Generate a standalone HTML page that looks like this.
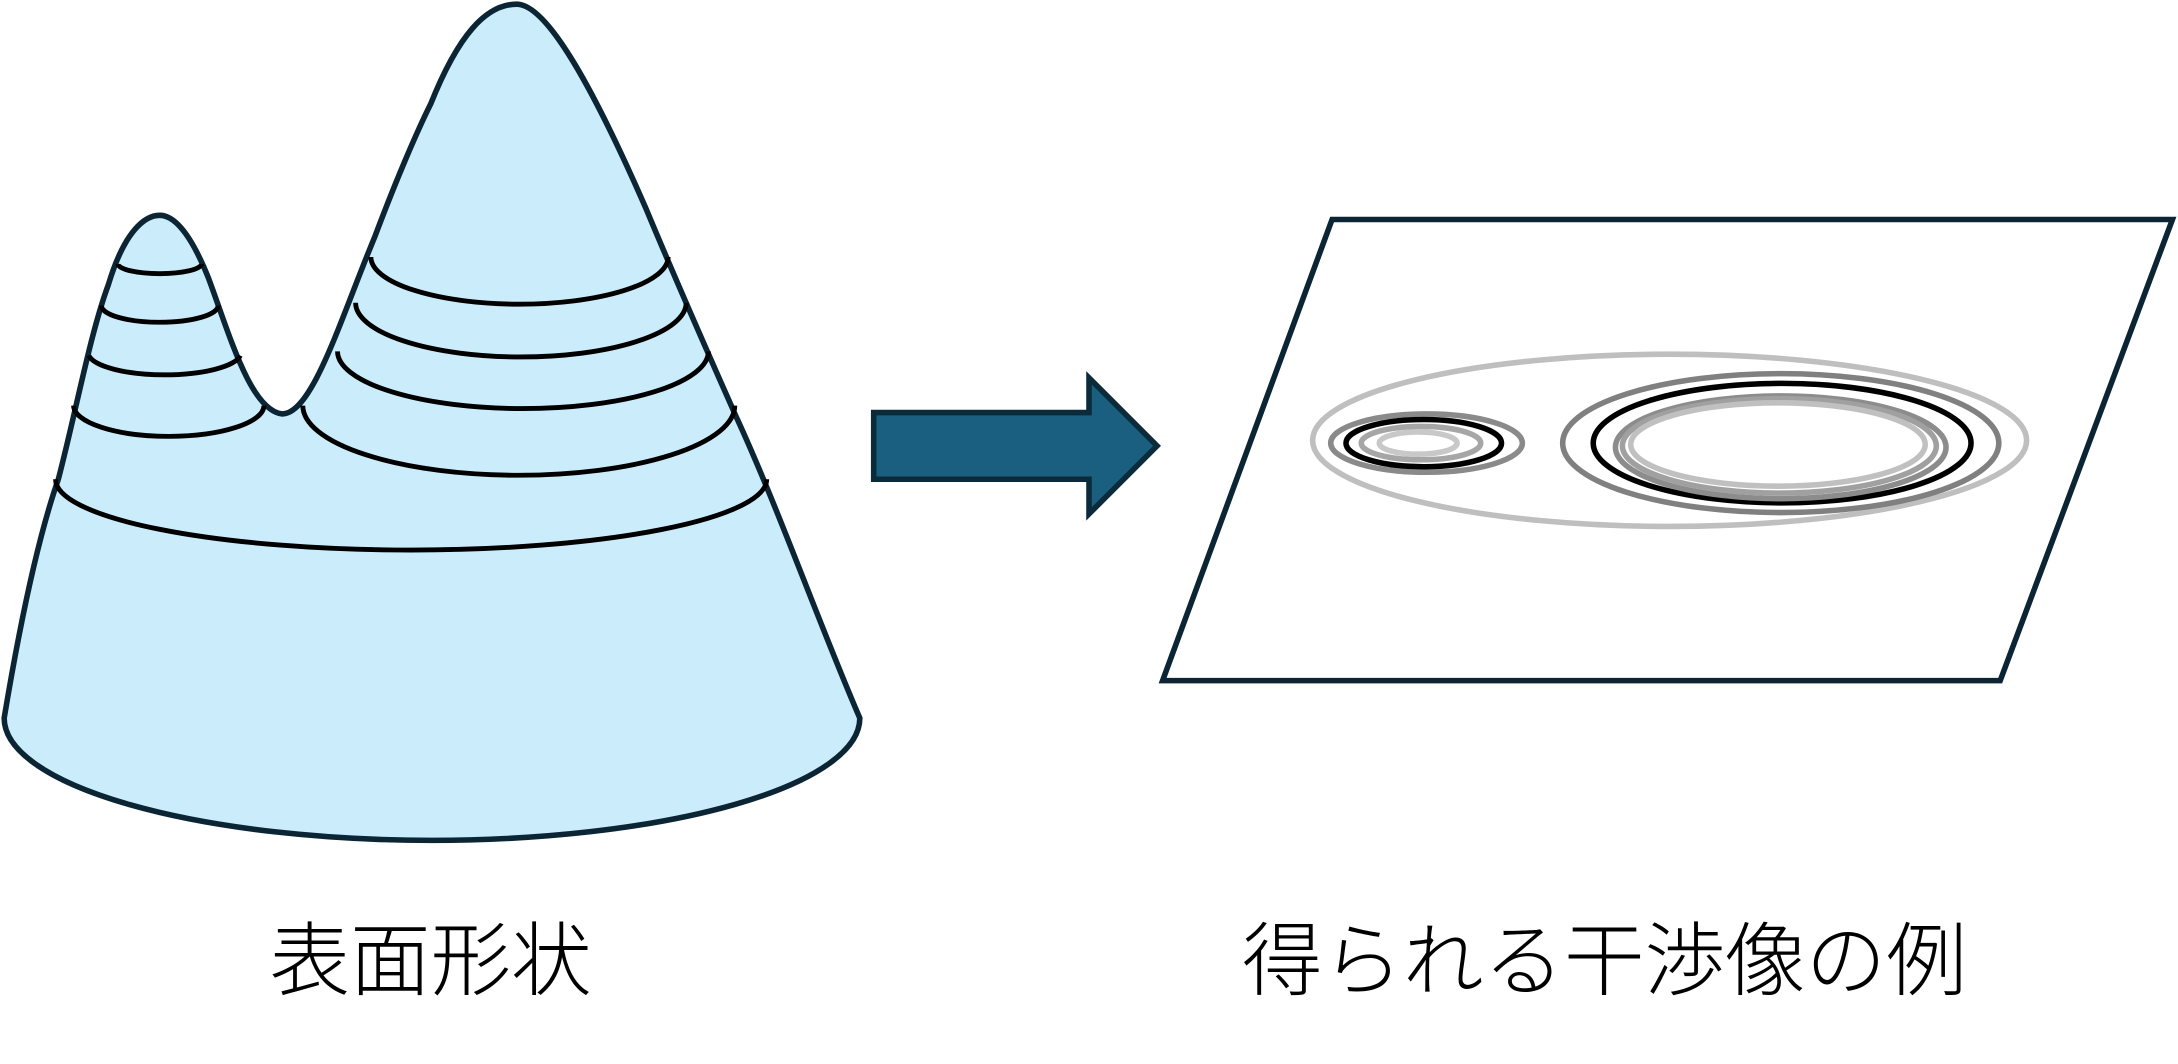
<!DOCTYPE html>
<html>
<head>
<meta charset="utf-8">
<style>
html,body{margin:0;padding:0;background:#fff;}
svg{display:block;}
text{font-family:"Liberation Sans","Noto Sans CJK JP",sans-serif;font-weight:300;}
</style>
</head>
<body>
<svg width="2178" height="1064" viewBox="0 0 1568 766" xmlns="http://www.w3.org/2000/svg">
  <path d="M3,517 C15,445 28,385 42,345 C55,295 65,240 78,205 C90,165 105,155 115,155 C128,155 140,175 150,200 C165,240 180,295 203,298 C225,298 245,230 270,170 C285,130 300,95 310,75 C330,25 350,3 372,3 C395,3 430,70 465,150 C490,210 510,255 530,300 C560,365 590,450 619,517 A308,88 0 0 1 3,517 Z"
        fill="#cbedfb" stroke="#0b2535" stroke-width="4"/>
  <g fill="none" stroke="#000" stroke-width="3.5">
    <path d="M85,190 A30,7 0 0 0 145,190"/>
    <path d="M73,220 A42,12 0 0 0 157,220"/>
    <path d="M64,256 A55,16 0 0 0 173,256"/>
    <path d="M53,292 A68,22 0 0 0 190,292"/>
    <path d="M267,185 A107,34 0 0 0 481,185"/>
    <path d="M256,218 A119,39 0 0 0 494,218"/>
    <path d="M243,253 A133,41 0 0 0 510,253"/>
    <path d="M218,292 A155,50 0 0 0 529,292"/>
    <path d="M40,345 A256,51 0 0 0 552,345"/>
  </g>
  <path d="M629,297 L784,297 L784,272 L833,321 L784,370 L784,345 L629,345 Z" fill="#1a5e80" stroke="#0b2a3a" stroke-width="4"/>
  <path d="M959,158 L1564,158 L1440,490 L837,490 Z" fill="#fff" stroke="#0b2535" stroke-width="4"/>
  <g fill="none" stroke-width="4">
    <ellipse cx="1202" cy="317" rx="257" ry="62" stroke="#bfbfbf"/>
    <ellipse cx="1027" cy="319" rx="69" ry="21" stroke="#8a8a8a"/>
    <ellipse cx="1025" cy="319" rx="56" ry="17" stroke="#000"/>
    <ellipse cx="1023" cy="319" rx="43" ry="12" stroke="#a6a6a6"/>
    <ellipse cx="1021" cy="319" rx="28" ry="8" stroke="#c8c8c8"/>
    <ellipse cx="1282" cy="319" rx="157" ry="50" stroke="#808080"/>
    <ellipse cx="1283" cy="319" rx="136" ry="43" stroke="#000"/>
    <ellipse cx="1282" cy="322" rx="119" ry="37" stroke="#8c8c8c"/>
    <ellipse cx="1281" cy="321" rx="113" ry="34" stroke="#a0a0a0"/>
    <ellipse cx="1280" cy="320" rx="106" ry="30" stroke="#c0c0c0"/>
  </g>
  <text x="310" y="712" font-size="58" text-anchor="middle" fill="#000">表面形状</text>
  <text x="1155" y="712" font-size="58" text-anchor="middle" fill="#000">得られる干渉像の例</text>
</svg>
</body>
</html>
